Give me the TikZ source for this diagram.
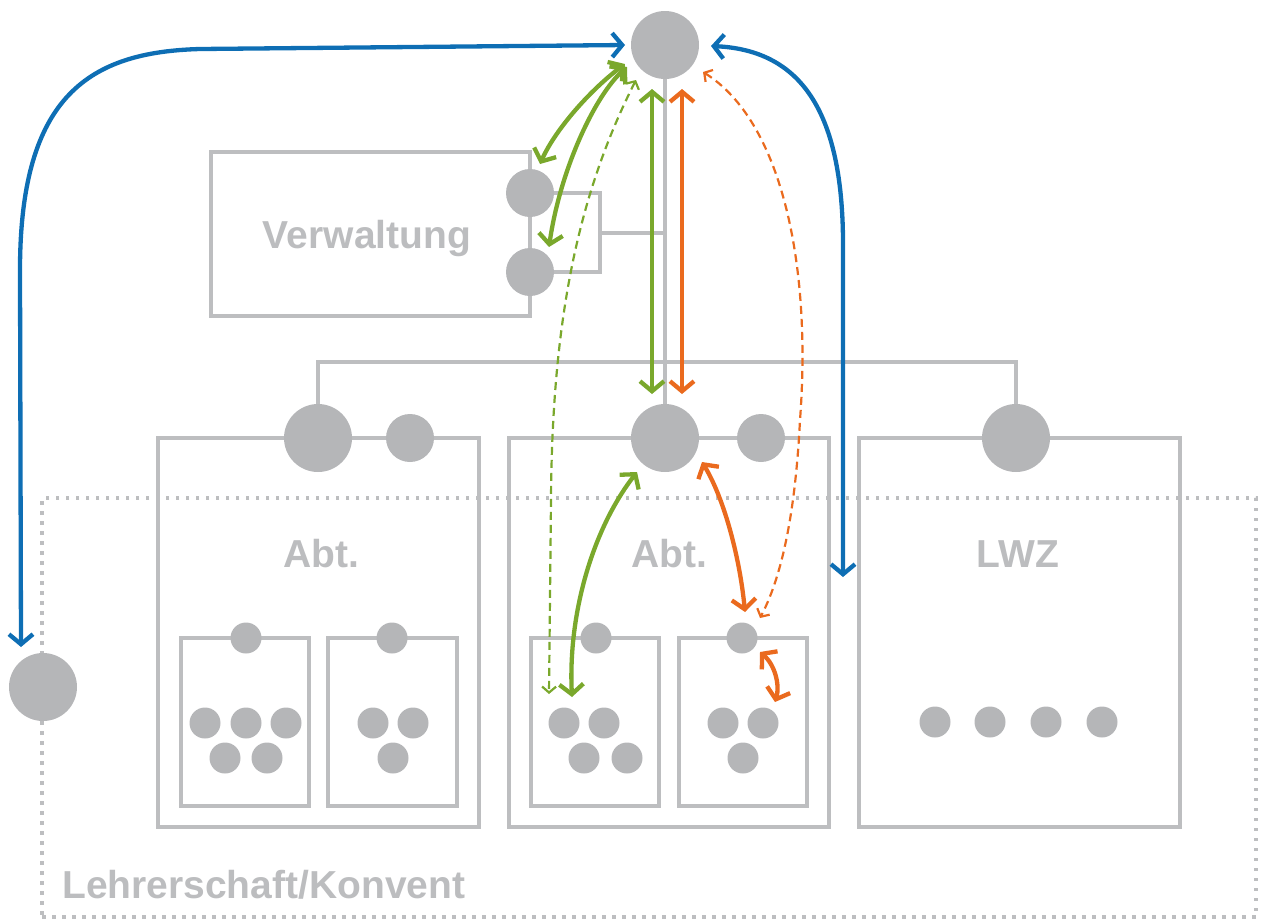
\documentclass[tikz,border=0pt]{standalone}
\usepackage{fontspec}
\setmainfont{Liberation Sans}
\usetikzlibrary{arrows.meta}
\definecolor{cgray}{HTML}{B5B6B8}
\definecolor{lgray}{HTML}{BDBEC0}
\definecolor{tgray}{HTML}{BCBDBF}
\definecolor{cblue}{HTML}{0E6EB4}
\definecolor{cgreen}{HTML}{7AA82C}
\definecolor{corange}{HTML}{EA6A1E}
\begin{document}
\begin{tikzpicture}[x=1pt,y=-1pt,
 gl/.style={draw=lgray,line width=3.2pt},
 dotbox/.style={draw=lgray,line width=3.5pt,dash pattern=on 3.5pt off 6.5pt,inner sep=0pt},
 bigc/.style={circle,fill=cgray,minimum size=68pt,inner sep=0pt},
 midc/.style={circle,fill=cgray,minimum size=48pt,inner sep=0pt},
 smc/.style={circle,fill=cgray,minimum size=31pt,inner sep=0pt},
 box/.style={draw=lgray,line width=3.2pt,inner sep=0pt},
 lbl/.style={text=tgray,font=\bfseries\fontsize{39}{45}\selectfont,inner sep=0pt,anchor=base},
 barr/.style={line width=4.3pt,{Straight Barb[length=10pt,width=24pt]}-{Straight Barb[length=10pt,width=24pt]}},
 darr/.style={line width=2.2pt,dash pattern=on 8pt off 5pt,{Straight Barb[length=6pt,width=14pt]}-{Straight Barb[length=6pt,width=14pt]}},
]
\useasboundingbox (0,0) rectangle (1263,922);

% dotted frame
\node[dotbox,minimum width=1214pt,minimum height=419pt] (LK) at (649,707.5) {};

% boxes
\node[box,minimum width=319pt,minimum height=164pt] (VB) at (370.5,234) {};
\node[box,minimum width=321pt,minimum height=389pt] (B1) at (318.5,632.5) {};
\node[box,minimum width=320pt,minimum height=389pt] (B2) at (669,632.5) {};
\node[box,minimum width=321pt,minimum height=389pt] (B3) at (1019.5,632.5) {};
\node[box,minimum width=128pt,minimum height=168pt] (SB1) at (245,722) {};
\node[box,minimum width=129pt,minimum height=168pt] (SB2) at (392.5,722) {};
\node[box,minimum width=128pt,minimum height=168pt] (SB3) at (595,722) {};
\node[box,minimum width=128pt,minimum height=168pt] (SB4) at (743,722) {};

% circles (positions)
\coordinate (Tc) at (665,45);
\coordinate (M1c) at (318,438);
\coordinate (M2c) at (665,438);
\coordinate (M3c) at (1016,438);
\coordinate (V1c) at (530,193);
\coordinate (V2c) at (530,272);
\coordinate (brk) at (600,233);
\coordinate (hub) at (665,362);

% gray connecting lines
\draw[gl] (Tc) -- (M2c);
\draw[gl] (V1c) -| (brk) |- (V2c);
\draw[gl] (brk) -- (brk -| Tc);
\draw[gl] (M1c) |- (hub) -| (M3c);

% circles
\node[bigc] (T) at (Tc) {};
\node[midc] (V1) at (V1c) {};
\node[midc] (V2) at (V2c) {};
\node[bigc] (M1) at (M1c) {};
\node[midc] (S1) at (410,438) {};
\node[bigc] (M2) at (M2c) {};
\node[midc] (S2) at (761,438) {};
\node[bigc] (M3) at (M3c) {};
\node[bigc] (L) at (43,687) {};
\node[smc] (t1) at (246,638) {};
\node[smc] (t2) at (392,638) {};
\node[smc] (t3) at (596,638) {};
\node[smc] (t4) at (742,638) {};
\node[smc] (p1) at (205,723) {};
\node[smc] (p2) at (246,723) {};
\node[smc] (p3) at (286,723) {};
\node[smc] (p4) at (225,758) {};
\node[smc] (p5) at (267,758) {};
\node[smc] (q1) at (373,723) {};
\node[smc] (q2) at (413,723) {};
\node[smc] (q3) at (393,758) {};
\node[smc] (r1) at (564,723) {};
\node[smc] (r2) at (604,723) {};
\node[smc] (r3) at (584,758) {};
\node[smc] (r4) at (627,758) {};
\node[smc] (s1) at (723,723) {};
\node[smc] (s2) at (763,723) {};
\node[smc] (s3) at (743,758) {};
\node[smc] (w1) at (935,722) {};
\node[smc] (w2) at (990,722) {};
\node[smc] (w3) at (1046,722) {};
\node[smc] (w4) at (1102,722) {};

% labels
\node[lbl] (tV) at (367,248) {Verwaltung};
\node[lbl] (tA1) at (321,567) {Abt.};
\node[lbl] (tA2) at (669,567) {Abt.};
\node[lbl] (tL) at (1018,567) {LWZ};
\node[lbl,anchor=base west] (tK) at (62,898) {Lehrerschaft/Konvent};

% arrow end points
\coordinate (bl1) at (21,647); \coordinate (bl2) at (625,45);
\coordinate (br1) at (711,46); \coordinate (br2) at (843,577);
\coordinate (g1a) at (625,64); \coordinate (g1b) at (540,164);
\coordinate (g2a) at (627,67); \coordinate (g2b) at (549,247);
\coordinate (g3a) at (636,80); \coordinate (g3b) at (549,694);
\coordinate (g4a) at (652,89); \coordinate (g4b) at (652,394);
\coordinate (o1a) at (682,89); \coordinate (o1b) at (682,394);
\coordinate (o2a) at (703,72); \coordinate (o2b) at (760,618);
\coordinate (g5a) at (637,472); \coordinate (g5b) at (572,697);
\coordinate (o3a) at (702,462); \coordinate (o3b) at (745,612);
\coordinate (o4a) at (760,652); \coordinate (o4b) at (775,702);

% blue
\draw[barr,cblue] (bl1) -- (20,270) .. controls (20,95) and (90,52) .. (200,49) -- (bl2);
\draw[barr,cblue] (br1) .. controls (800,50) and (842,110) .. (843,240) -- (br2);
% green
\draw[barr,cgreen] (g1a) .. controls (590,90) and (555,130) .. (g1b);
\draw[barr,cgreen] (g2a) .. controls (595,95) and (560,170) .. (g2b);
\draw[darr,cgreen] (g3a) .. controls (575,200) and (552,330) .. (551,500) -- (g3b);
\draw[barr,cgreen] (g4a) -- (g4b);
\draw[barr,cgreen] (g5a) .. controls (592,530) and (568,615) .. (g5b);
% orange
\draw[barr,corange] (o1a) -- (o1b);
\draw[darr,corange] (o2a) .. controls (780,120) and (812,260) .. (800,420) .. controls (795,520) and (780,580) .. (o2b);
\draw[barr,corange] (o3a) .. controls (725,500) and (740,560) .. (o3b);
\draw[barr,corange] (o4a) .. controls (775,665) and (780,685) .. (o4b);
\end{tikzpicture}
\end{document}
